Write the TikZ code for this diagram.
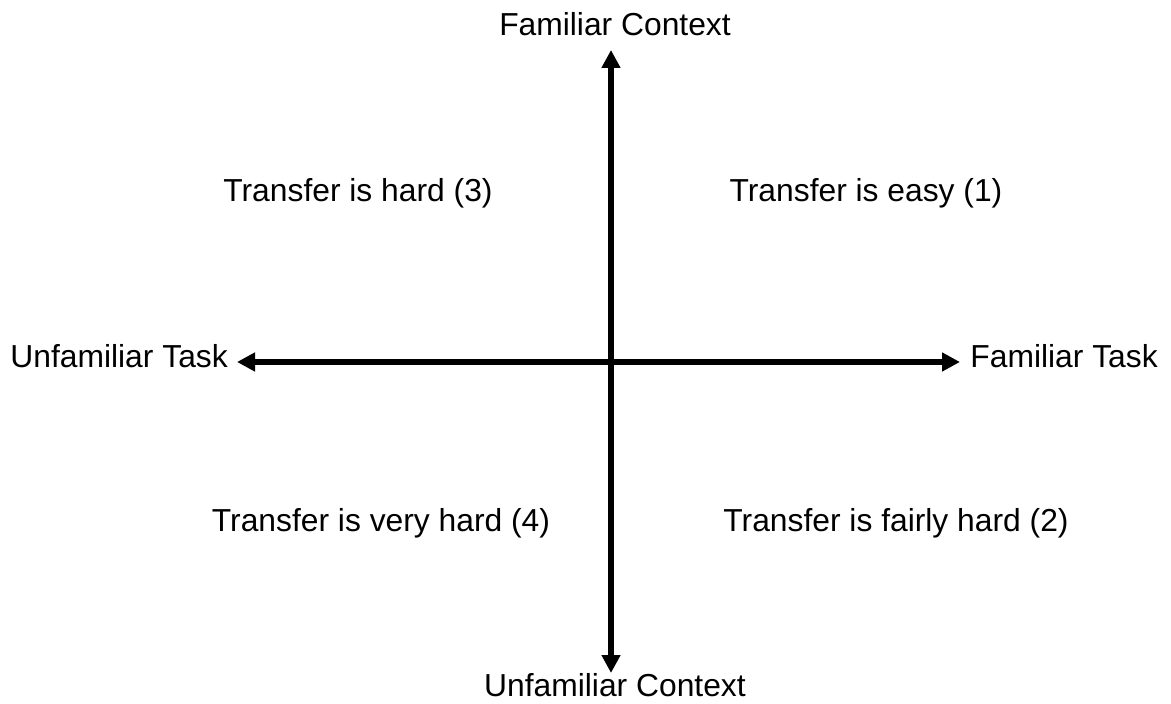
\documentclass[tikz,border=0pt]{standalone}
\usepackage{fontspec}
\setmainfont{Liberation Sans}
\usetikzlibrary{arrows.meta}
\begin{document}
\begin{tikzpicture}[x=0.5pt, y=-0.5pt, lbl/.style={inner sep=0pt, font=\fontsize{15.9}{19}\selectfont}, axis/.style={<->, line width=3pt}, >={Triangle[length=9pt, width=9pt]}]
            \useasboundingbox (0,0) rectangle (1171,704);

            % axis labels
            \node[lbl, anchor=base] (fctx) at (615,36) {Familiar Context};
            \node[lbl, anchor=base] (uctx) at (615,696) {Unfamiliar Context};
            \node[lbl, anchor=base west] (utask) at (10,368) {Unfamiliar Task};
            \node[lbl, anchor=base west] (ftask) at (970,368) {Familiar Task};

            % arrow tips
            \coordinate (top) at (611,50);
            \coordinate (bot) at (611,673);
            \coordinate (lft) at (237,362);
            \coordinate (rgt) at (960,362);
            \draw[axis] (lft) -- (rgt);
            \draw[axis] (top) -- (bot);

            % quadrants
            \node[lbl, anchor=base] (q3) at (358,202) {Transfer is hard (3)};
            \node[lbl, anchor=base] (q1) at (866,202) {Transfer is easy (1)};
            \node[lbl, anchor=base] (q4) at (381,531) {Transfer is very hard (4)};
            \node[lbl, anchor=base] (q2) at (896,531) {Transfer is fairly hard (2)};
        \end{tikzpicture}
\end{document}
